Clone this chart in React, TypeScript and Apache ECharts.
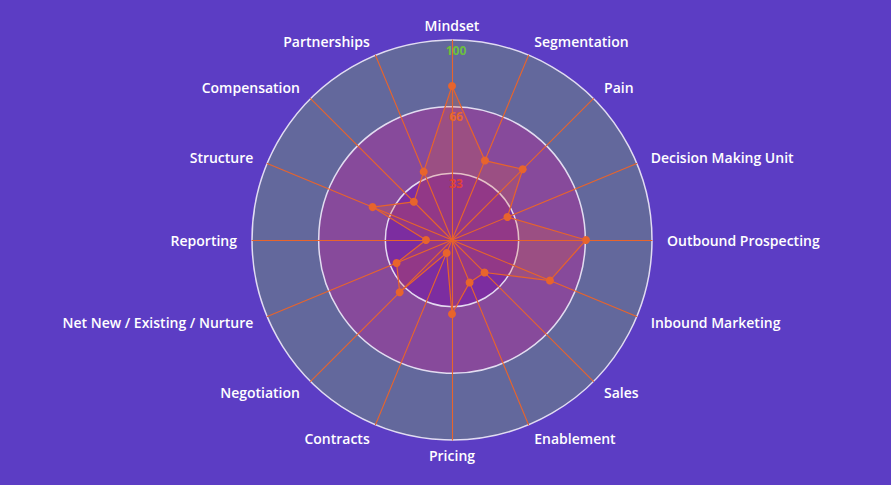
import React, { useEffect, useRef } from "react";
import * as echarts from "echarts";

// Indicators listed clockwise starting from the top.
const indicators = [
  "Mindset",
  "Segmentation",
  "Pain",
  "Decision Making Unit",
  "Outbound Prospecting",
  "Inbound Marketing",
  "Sales",
  "Enablement",
  "Pricing",
  "Contracts",
  "Negotiation",
  "Net New / Existing / Nurture",
  "Reporting",
  "Structure",
  "Compensation",
  "Partnerships",
];

const scores = [77, 43, 50, 30, 67, 53, 23, 23, 37, 7, 37, 30, 13, 43, 27, 37];

const maxScore = 100;
const tickLabels = ["", "33", "66", "100"];

// ECharts lays radar indicators out counter-clockwise, so keep the first
// one at the top and reverse the rest.
const toCounterClockwise = <T,>(arr: T[]): T[] => [arr[0], ...arr.slice(1).reverse()];

export default function App() {
  const ref = useRef<HTMLDivElement>(null);

  useEffect(() => {
    if (!ref.current) return;
    const chart = echarts.init(ref.current, undefined, { renderer: "svg" });
    const fontFamily = "'Open Sans', sans-serif";
    const names = toCounterClockwise(indicators);
    const values = toCounterClockwise(scores);
    chart.setOption({
      animation: false,
      backgroundColor: "#5c3dc4",
      radar: {
        center: [452, 240],
        radius: 200,
        shape: "circle",
        splitNumber: 3,
        startAngle: 90,
        indicator: names.map((name, i) =>
          i === 0
            ? {
                name,
                max: maxScore,
                min: 0,
                axisLabel: {
                  show: true,
                  margin: 0,
                  align: "center",
                  verticalAlign: "top",
                  padding: [4, 0, 0, 8],
                  fontFamily,
                  fontSize: 12,
                  fontWeight: 700,
                  formatter: (v: number) => {
                    const idx = Math.round((v / maxScore) * 3);
                    const t = tickLabels[idx] || "";
                    return t ? `{l${idx}|${t}}` : "";
                  },
                  rich: {
                    l1: { color: "#e0383a", fontFamily, fontSize: 12, fontWeight: 700 },
                    l2: { color: "#e8692e", fontFamily, fontSize: 12, fontWeight: 700 },
                    l3: { color: "#6cc03e", fontFamily, fontSize: 12, fontWeight: 700 },
                  },
                },
              }
            : { name, max: maxScore, min: 0 }
        ),
        axisName: {
          color: "#ffffff",
          fontFamily,
          fontSize: 14,
          fontWeight: 600,
          verticalAlign: "middle",
        },
        nameGap: 15,
        axisLine: { lineStyle: { color: "#e8642c", width: 1.1 } },
        splitLine: { lineStyle: { color: "rgba(240,235,250,0.9)", width: 1.5 } },
        splitArea: {
          show: true,
          areaStyle: { color: ["#7c2da0", "#874a9b", "#63689c"] },
        },
        axisLabel: { show: false },
      },
      series: [
        {
          type: "radar",
          symbol: "circle",
          symbolSize: 8,
          lineStyle: { color: "#e8642c", width: 1.2 },
          itemStyle: { color: "#e8642c" },
          areaStyle: { color: "rgba(232,100,44,0.3)" },
          data: [{ value: values, name: "Score" }],
        },
      ],
    });
    return () => chart.dispose();
  }, []);

  return (
    <div
      ref={ref}
      style={{ position: "fixed", left: 0, top: 0, width: 891, height: 485 }}
    />
  );
}
